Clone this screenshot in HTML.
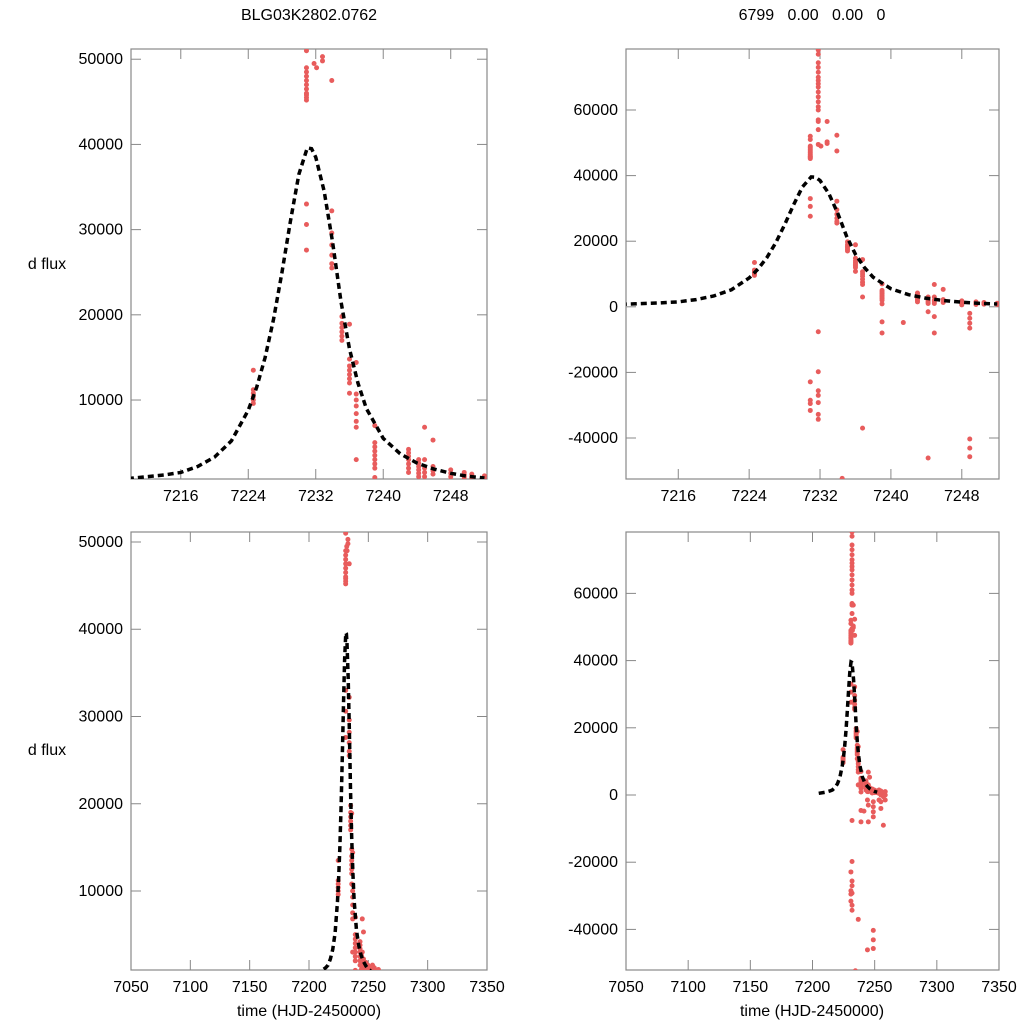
<!DOCTYPE html>
<html><head><meta charset="utf-8"><style>
html,body{margin:0;padding:0;background:#fff;width:1024px;height:1024px;overflow:hidden;position:relative;}
svg{display:block;position:absolute;left:0;top:0;font-family:"Liberation Sans",sans-serif;}
</style></head><body>
<svg id="chart" width="1024" height="1024" viewBox="0 0 1024 1024">
<text x="309" y="20" font-size="16" text-anchor="middle">BLG03K2802.0762</text>
<text x="812" y="20" font-size="16" text-anchor="middle" xml:space="preserve">6799   0.00   0.00   0</text>
<text x="47" y="269" font-size="16" text-anchor="middle">d flux</text>
<text x="47" y="755" font-size="16" text-anchor="middle">d flux</text>
<text x="309" y="1016" font-size="16" text-anchor="middle">time (HJD-2450000)</text>
<text x="812" y="1016" font-size="16" text-anchor="middle">time (HJD-2450000)</text>
</svg>
<script>
// model curve samples
const modelTime = [7205,7210,7214,7216,7218,7220,7222,7224,7225,7226,7227,7228,7229,7230,7231,7231.5,7232,7233,7234,7235,7236,7237,7238,7240,7242,7244,7246,7248,7250,7252];
const modelFlux = [500,800,1200,1500,2200,3300,5200,8800,11500,15000,19500,25000,31000,36500,39600,39500,38500,34500,28500,21500,16000,12000,9000,5500,3700,2600,1900,1400,1050,850];
// observations: times and flux groups
const groupTime = [7224.6,7230.9,7231.8,7232.1,7232.8,7233.9,7234.5,7235.1,7236.0,7236.8,7239.0,7241.4,7243.0,7244.2,7244.9,7245.9,7248.0,7248.9,7249.6,7250.5,7252.0,7253.5,7255,7257,7258.5];
const groupFlux = [
 [13500,11200,10800,10400,10000,9600],
 [52000,51000,49000,48500,48000,47500,47000,46500,46000,45800,45500,45200,33000,30600,27600,-22900,-28500,-29500,-31600],
 [78300,77000,74400,73000,71500,70000,69000,68000,67000,65500,64000,62500,61000,60000,57000,56500,54000,49500,-7600,-19800,-25600,-27000,-29200,-32800,-34300],
 [49000],
 [56500,50300,49800],
 [52300,47500,32200,29600,28200,27000,26000,25500],
 [-52300],
 [19800,19000,18500,18000,17500,17000],
 [18900,14800,14000,13500,13000,12500,12000,10800],
 [14400,10700,10000,9300,8400,7500,6800,3000,-37000],
 [7000,5000,4500,4000,3500,3000,2500,2000,900,-4600,-8000],
 [-4800],
 [4200,3800,3400,3000,2500,2000,1500],
 [3000,2600,2200,1800,1400,1000,-1500,-46100],
 [6800,3000,2000,1500,1000,-3000,-8000],
 [5300,2200,1700,1300],
 [1800,1400,1000,600],
 [-2000,-3500,-5000,-6500,-40300,-43100,-45700],
 [1500,1200,1000,700],
 [1300,1000,800],
 [1100,700],
 [1500,500,-1500],
 [1200,0,-2000,-4000],
 [800,-500,-9000],
 [1000,0,-1500]
];
const zoomTicksX = [7216,7224,7232,7240,7248];
const wideTicksX = [7050,7100,7150,7200,7250,7300,7350];
const leftTicksY = [10000,20000,30000,40000,50000];
const rightTicksY = [-40000,-20000,0,20000,40000,60000];

const NS='http://www.w3.org/2000/svg';
const svg=document.getElementById('chart');
function mk(tag,attrs,parent){const e=document.createElementNS(NS,tag);for(const k in attrs)e.setAttribute(k,attrs[k]);(parent||svg).appendChild(e);return e;}

const panels=[
 {id:'top-left',x0:131,x1:487,y0:49,y1:479,xmin:7210.1,xmax:7252.3,ymin:730,ymax:51200,xt:zoomTicksX,yt:leftTicksY},
 {id:'top-right',x0:626,x1:999,y0:49,y1:479,xmin:7210.1,xmax:7252.2,ymin:-52500,ymax:78600,xt:zoomTicksX,yt:rightTicksY},
 {id:'bottom-left',x0:131,x1:487,y0:532,y1:970,xmin:7050,xmax:7350,ymin:946,ymax:51146,xt:wideTicksX,yt:leftTicksY},
 {id:'bottom-right',x0:626,x1:999,y0:532,y1:970,xmin:7050,xmax:7350,ymin:-52080,ymax:78270,xt:wideTicksX,yt:rightTicksY}
];
const defs=mk('defs',{});
panels.forEach((p,i)=>{
 const sx=v=>p.x0+(v-p.xmin)/(p.xmax-p.xmin)*(p.x1-p.x0);
 const sy=v=>p.y1-(v-p.ymin)/(p.ymax-p.ymin)*(p.y1-p.y0);
 const cp=mk('clipPath',{id:'clip'+i},defs);
 mk('rect',{x:p.x0,y:p.y0,width:p.x1-p.x0,height:p.y1-p.y0},cp);
 const g=mk('g',{});
 
 
 const frame=mk('rect',{x:p.x0,y:p.y0,width:p.x1-p.x0,height:p.y1-p.y0,fill:'none',stroke:'#888','stroke-width':1.2},g);
 
 
 p.xt.forEach(t=>{
  const x=sx(t);
  mk('line',{x1:x,x2:x,y1:p.y1,y2:p.y1-10,stroke:'#888'},g);
  mk('line',{x1:x,x2:x,y1:p.y0,y2:p.y0+10,stroke:'#888'},g);
  const tx=mk('text',{x:x,y:p.y1+22,'font-size':16,'text-anchor':'middle'},g);
  tx.textContent=t;
  
  
 });
 p.yt.forEach(t=>{
  const y=sy(t);
  mk('line',{x1:p.x0,x2:p.x0+10,y1:y,y2:y,stroke:'#888'},g);
  mk('line',{x1:p.x1,x2:p.x1-10,y1:y,y2:y,stroke:'#888'},g);
  const ty=mk('text',{x:p.x0-8,y:y+5,'font-size':16,'text-anchor':'end'},g);
  ty.textContent=t;
  
  
 });
 const inner=mk('g',{'clip-path':'url(#clip'+i+')'},g);
 groupTime.forEach((t,gi)=>{
  groupFlux[gi].forEach(f=>{
   const c=mk('circle',{cx:sx(t),cy:sy(f),r:2.5,fill:'#e85c5c'},inner);
   
   
  });
 });
 const d=modelTime.map((t,k)=>(k?'L':'M')+sx(t).toFixed(2)+','+sy(modelFlux[k]).toFixed(2)).join(' ');
 const path=mk('path',{d:d,fill:'none',stroke:'#000','stroke-width':3.5,'stroke-dasharray':'6,4'},inner);
 
 
});
</script>
</body></html>
